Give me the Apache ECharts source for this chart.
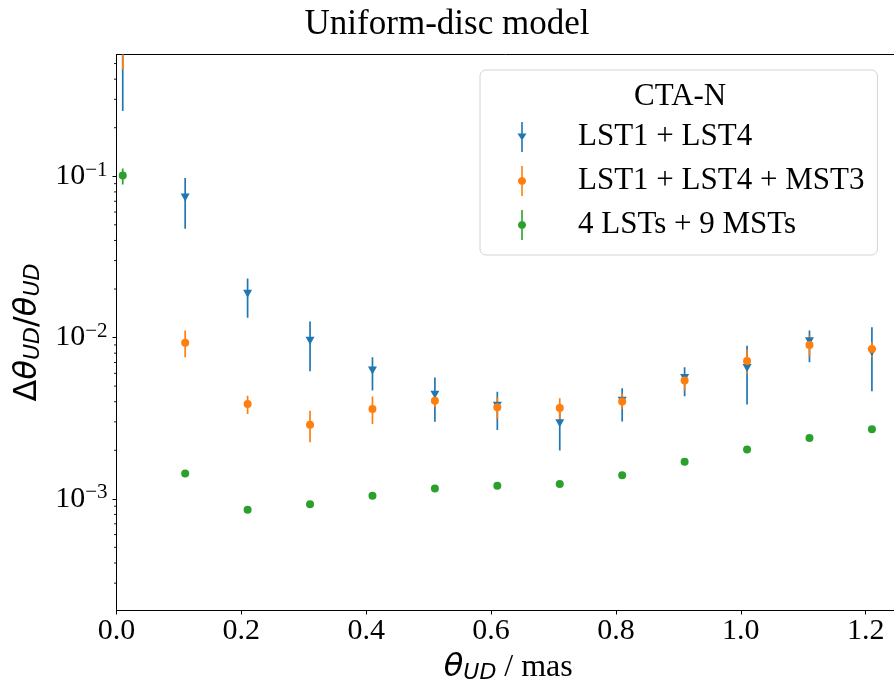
<!DOCTYPE html>
<html>
<head>
<meta charset="utf-8">
<script src="https://cdn.jsdelivr.net/npm/echarts@6/dist/echarts.min.js"></script>
<style>html,body{margin:0;padding:0;background:#fff;}#chart{width:894px;height:681px;}</style>
</head>
<body>
<div id="chart"></div>
<script>
const thetaUD = [0.01, 0.11, 0.21, 0.31, 0.41, 0.51, 0.61, 0.71, 0.81, 0.91, 1.01, 1.11, 1.21];

const lst14 = [0.7, 0.0738, 0.0187, 0.00957, 0.00624, 0.00442, 0.00378, 0.00294, 0.00406, 0.00561, 0.00648, 0.00948, 0.00811];
const lst14Lo = [0.254, 0.0473, 0.01325, 0.00618, 0.00469, 0.00301, 0.00267, 0.00199, 0.00302, 0.00433, 0.00384, 0.00703, 0.00464];
const lst14Hi = [1.15, 0.0976, 0.0232, 0.01256, 0.00755, 0.00566, 0.00462, 0.00389, 0.00484, 0.00655, 0.00891, 0.01104, 0.0116];

const lst14mst3 = [0.75, 0.00927, 0.00387, 0.00288, 0.0036, 0.00406, 0.00369, 0.00366, 0.00402, 0.00541, 0.00716, 0.00899, 0.00849];
const lst14mst3Lo = [0.46, 0.00755, 0.00336, 0.00224, 0.00291, 0.00369, 0.00314, 0.0031, 0.0036, 0.00469, 0.00596, 0.00762, 0.00755];
const lst14mst3Hi = [1.04, 0.01104, 0.00436, 0.00352, 0.00431, 0.00446, 0.00426, 0.0042, 0.0045, 0.00589, 0.00841, 0.01028, 0.00936];

const full = [0.101, 0.001435, 0.000855, 0.000927, 0.001045, 0.00116, 0.001205, 0.001234, 0.0014, 0.0017, 0.00202, 0.00238, 0.0027];
const fullLo = [0.0888, 0.0014, 0.00083, 0.0009, 0.00102, 0.00113, 0.00117, 0.0012, 0.00136, 0.00165, 0.00196, 0.00231, 0.00262];
const fullHi = [0.1116, 0.00147, 0.00088, 0.00095, 0.00107, 0.00119, 0.00124, 0.00127, 0.00144, 0.00175, 0.00208, 0.00245, 0.00278];

const seriesNames = ['LST1 + LST4', 'LST1 + LST4 + MST3', '4 LSTs + 9 MSTs'];
const seriesColors = ['#1f77b4', '#ff7f0e', '#2ca02c'];
const xTickLabels = ['0.0', '0.2', '0.4', '0.6', '0.8', '1.0', '1.2'];

const X_MIN = 0, X_MAX = 1.255, Y_MIN = 2.03e-4, Y_MAX = 0.569;

// minor ticks (axis decoration): 2..9 x 10^k
const minorTicks = [];
for (let k = -4; k <= 0; k++) {
  for (let m = 2; m <= 9; m++) {
    const v = m * Math.pow(10, k);
    if (v > Y_MIN && v < Y_MAX) minorTicks.push([X_MIN, v]);
  }
}

const SERIF = 'Liberation Serif';
const SANS = 'DejaVu Sans';

function errData(lo, hi) { return thetaUD.map((x, i) => [x, lo[i], hi[i]]); }
function ptData(v) { return thetaUD.map((x, i) => [x, v[i]]); }

function errRender(params, api) {
  const x = api.value(0), lo = api.value(1), hi = api.value(2);
  const p1 = api.coord([x, lo]);
  const p2 = api.coord([x, hi]);
  return {
    type: 'line',
    shape: { x1: p1[0], y1: p1[1], x2: p2[0], y2: p2[1] },
    style: { stroke: api.visual('color'), lineWidth: 1.7 }
  };
}

// legend icons: errorbar line + marker, in a 10 x 44 box (icon geometry)
function circlePoly(cx, cy, r, n) {
  let d = '';
  for (let i = 0; i < n; i++) {
    const a = 2 * Math.PI * i / n;
    d += (i === 0 ? 'M' : 'L') + (cx + r * Math.cos(a)).toFixed(2) + ' ' + (cy + r * Math.sin(a)).toFixed(2) + ' ';
  }
  return d + 'Z';
}
const anchors = 'M0 0 L0.01 0 L0 0.01 Z M10 44 L9.99 44 L10 43.99 Z ';
const barPath = anchors + 'M4.2 7 L5.8 7 L5.8 37 L4.2 37 Z ';
const triPath = 'path://' + barPath + 'M0.5 18.5 L9.5 18.5 L5 25.5 Z';
const dotPath = 'path://' + barPath + circlePoly(5, 22, 4, 24);

const chart = echarts.init(document.getElementById('chart'), null, { renderer: 'canvas' });

const errSets = [[lst14Lo, lst14Hi], [lst14mst3Lo, lst14mst3Hi], [fullLo, fullHi]];
const ptSets = [lst14, lst14mst3, full];

const series = [];
for (let s = 0; s < 3; s++) {
  series.push({
    type: 'custom',
    name: seriesNames[s],
    renderItem: errRender,
    data: errData(errSets[s][0], errSets[s][1]),
    encode: { x: 0, y: [1, 2] },
    itemStyle: { color: seriesColors[s] },
    clip: true,
    silent: true,
    z: 2
  });
  series.push({
    type: 'scatter',
    name: seriesNames[s],
    data: ptData(ptSets[s]),
    symbol: s === 0 ? 'triangle' : 'circle',
    symbolRotate: s === 0 ? 180 : 0,
    symbolSize: s === 0 ? [9, 8] : 8,
    itemStyle: { color: seriesColors[s], opacity: 1 },
    clip: true,
    silent: true,
    z: 2
  });
}
series.push({
  type: 'custom',
  name: 'minorTicks',
  data: minorTicks,
  encode: { x: 0, y: 1 },
  clip: false,
  silent: true,
  renderItem: function (params, api) {
    const p = api.coord([api.value(0), api.value(1)]);
    return { type: 'line', shape: { x1: p[0] - 2.5, y1: p[1], x2: p[0], y2: p[1] }, style: { stroke: '#000', lineWidth: 0.9 } };
  },
  z: 3
});

const option = {
  animation: false,
  backgroundColor: '#fff',
  title: {
    text: 'Uniform-disc model',
    left: 'center',
    top: 2,
    textStyle: { fontFamily: SERIF, fontSize: 35, fontWeight: 'normal', color: '#000' }
  },
  grid: {
    left: 116.5, right: -6, top: 54.5, bottom: 70.5,
    show: true, borderColor: '#000', borderWidth: 1,
    containLabel: false,
    outerBoundsMode: 'none'
  },
  legend: {
    orient: 'vertical',
    left: 480, top: 70,
    padding: [45, 13, 8, 37],
    itemWidth: 20, itemHeight: 44, itemGap: 0,
    backgroundColor: '#fff',
    borderColor: '#d4d4d4', borderWidth: 1, borderRadius: 6,
    selectedMode: false,
    textStyle: { fontFamily: SERIF, fontSize: 31, color: '#000', padding: [0, 0, 0, 41] },
    data: [
      { name: seriesNames[0], icon: triPath },
      { name: seriesNames[1], icon: dotPath },
      { name: seriesNames[2], icon: dotPath }
    ]
  },
  graphic: [{
    type: 'text',
    left: 680 - 46, top: 81,
    z: 100,
    style: { text: 'CTA-N', x: 0, y: 0, fontFamily: SERIF, fontSize: 31, fill: '#000' }
  }],
  xAxis: {
    type: 'value',
    min: X_MIN, max: X_MAX, interval: 0.2,
    name: '{t|θ}{s|UD}{r| / mas}',
    nameLocation: 'middle',
    nameGap: 40,
    nameTextStyle: {
      rich: {
        t: { fontFamily: SANS, fontStyle: 'italic', fontSize: 32, color: '#000' },
        s: { fontFamily: SANS, fontStyle: 'italic', fontSize: 22, color: '#000', padding: [12, 0, 0, 0] },
        r: { fontFamily: SERIF, fontSize: 32, color: '#000' }
      }
    },
    splitLine: { show: false },
    axisLine: { show: true, lineStyle: { color: '#000', width: 1 } },
    axisTick: { show: true, inside: false, length: 4, lineStyle: { color: '#000', width: 1 } },
    axisLabel: {
      show: true, margin: 6, showMaxLabel: false,
      fontFamily: SERIF, fontSize: 30, color: '#000',
      formatter: function (v) {
        const idx = Math.round(v / 0.2);
        return (Math.abs(v - idx * 0.2) < 1e-6 && xTickLabels[idx]) ? xTickLabels[idx] : '';
      }
    }
  },
  yAxis: {
    type: 'log', logBase: 10,
    min: Y_MIN, max: Y_MAX,
    name: '{a|Δ}{t|θ}{s|UD}{a|/}{t|θ}{s|UD}',
    nameLocation: 'middle',
    nameRotate: 90,
    nameGap: 66,
    nameTextStyle: {
      rich: {
        a: { fontFamily: SANS, fontSize: 32, color: '#000' },
        t: { fontFamily: SANS, fontStyle: 'italic', fontSize: 32, color: '#000' },
        s: { fontFamily: SANS, fontStyle: 'italic', fontSize: 22, color: '#000', padding: [12, 0, 0, 0] }
      }
    },
    splitLine: { show: false },
    minorTick: { show: false },
    axisLine: { show: true, lineStyle: { color: '#000', width: 1 } },
    axisTick: { show: true, inside: false, length: 4, lineStyle: { color: '#000', width: 1 } },
    axisLabel: {
      show: true, margin: 9, showMinLabel: false, showMaxLabel: false,
      formatter: function (v) {
        const e = Math.log10(v);
        const r = Math.round(e);
        if (Math.abs(e - r) > 1e-6) return '';
        return '{b|10}{s|' + (r < 0 ? '\u2212' : '') + Math.abs(r) + '}';
      },
      rich: {
        b: { fontFamily: SERIF, fontSize: 30, color: '#000' },
        s: { fontFamily: SERIF, fontSize: 21, color: '#000', padding: [0, 0, 12, 0] }
      }
    }
  },
  series: series
};

chart.setOption(option);
</script>
</body>
</html>
